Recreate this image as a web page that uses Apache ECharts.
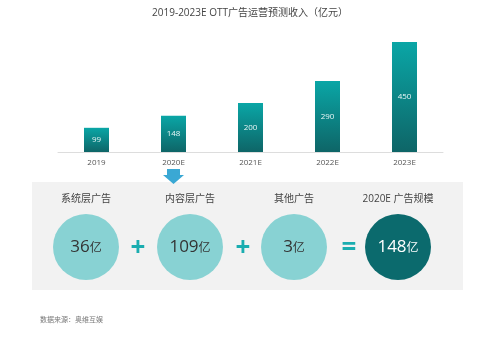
<!DOCTYPE html>
<html><head><meta charset="utf-8">
<script src="https://cdn.jsdelivr.net/npm/echarts@6/dist/echarts.min.js"></script>
<style>html,body{margin:0;padding:0;background:#fff}#c{width:500px;height:349px}</style>
</head><body><div id="c"></div>
<script>
const title = '2019-2023E OTT广告运营预测收入（亿元）';
const years = ['2019', '2020E', '2021E', '2022E', '2023E'];
const revenue = [99, 148, 200, 290, 450];
const partNames = ['系统层广告', '内容层广告', '其他广告', '2020E 广告规模'];
const partValues = [36, 109, 3, 148];
const operators = ['+', '+', '='];
const source = '数据来源：奥维互娱';

const FONT = "'Open Sans','Noto Sans CJK SC',sans-serif";
const chart = echarts.init(document.getElementById('c'));
const opGraphics = operators.map((op, i) => ({
  type: 'text', x: [138, 243, 349][i], y: 249, z: 10,
  style: { text: op, fill: '#1aadb0', font: 'bold 26px ' + FONT, align: 'center', verticalAlign: 'middle' }
}));
const last = partValues.length - 1;
chart.setOption({
  animation: false,
  title: { text: title, left: 'center', top: 3, textStyle: { fontSize: 10, fontWeight: 'normal', color: '#444', fontFamily: FONT } },
  graphic: [
    { type: 'rect', shape: { x: 32, y: 182, width: 431, height: 108 }, style: { fill: '#f2f2f2' }, z: -10 },
    { type: 'polygon', shape: { points: [[167, 169], [180, 169], [180, 175], [184, 175], [173.5, 184], [163, 175], [167, 175]] }, style: { fill: '#3aa8d4' } },
    { type: 'text', left: 40, top: 316, style: { text: source, fill: '#777', font: '7px ' + FONT } }
  ].concat(opGraphics),
  grid: [
    { left: 58, width: 385, top: 42, height: 110 },
    { left: 34, width: 416, top: 213, height: 68 }
  ],
  xAxis: [
    { type: 'category', data: years, gridIndex: 0,
      axisLine: { lineStyle: { color: '#ddd' } }, axisTick: { show: false },
      axisLabel: { color: '#555', fontSize: 8, fontFamily: FONT, margin: 7 } },
    { type: 'category', data: partNames, gridIndex: 1, position: 'top',
      axisLine: { show: false }, axisTick: { show: false },
      axisLabel: { color: '#444', fontSize: 10, fontFamily: FONT, margin: 9 } }
  ],
  yAxis: [
    { type: 'value', min: 0, max: 450, gridIndex: 0, show: false, splitLine: { show: false } },
    { type: 'value', min: 0, max: 1, gridIndex: 1, show: false, splitLine: { show: false } }
  ],
  series: [
    { type: 'bar', xAxisIndex: 0, yAxisIndex: 0, data: revenue, barWidth: 25,
      itemStyle: { color: new echarts.graphic.LinearGradient(0, 0, 0, 1, [
        { offset: 0, color: '#0aa6a6' }, { offset: 1, color: '#0e6567' }]) },
      label: { show: true, position: 'inside', color: '#e8f6f6', fontSize: 8, fontFamily: FONT } },
    { type: 'scatter', xAxisIndex: 1, yAxisIndex: 1, symbolSize: 66,
      data: partValues.map((v, i) => {
        const c = i === last ? '#ffffff' : '#333333';
        return {
          value: [i, 0.5],
          itemStyle: { color: i === last ? '#0b6a6d' : '#88d2d3', opacity: 1 },
          label: { rich: {
            n: { fontSize: 17, color: c, fontFamily: FONT },
            u: { fontSize: 12, color: c, fontFamily: FONT, padding: [3, 0, 0, 0] } } }
        };
      }),
      label: { show: true, position: 'inside', formatter: p => '{n|' + partValues[p.dataIndex] + '}{u|亿}' } }
  ]
});
</script></body></html>
